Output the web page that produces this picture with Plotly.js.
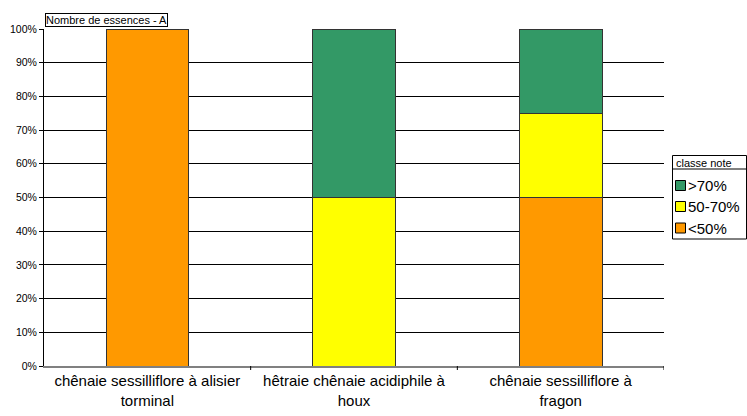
<!DOCTYPE html>
<html>
<head>
<meta charset="utf-8">
<script src="https://cdn.plot.ly/plotly-3.0.1.min.js"></script>
<style>
  html, body { margin: 0; padding: 0; background: #fff; }
  #chart { width: 747px; height: 416px; }
</style>
</head>
<body>
<div id="chart"></div>
<script>
// Forest types (two-line category labels)
const categories = [
  "chênaie sessilliflore à alisier<br>torminal",
  "hêtraie chênaie acidiphile à<br>houx",
  "chênaie sessilliflore à<br>fragon"
];

// Share of species per score class (percent of each column)
const seriesNames = ["<50%", "50-70%", ">70%"];
const lowScore  = [100, 0, 50];
const midScore  = [0, 50, 25];
const highScore = [0, 50, 25];
const seriesValues = [lowScore, midScore, highScore];
const seriesColors = ["#FF9900", "#FFFF00", "#339966"];

const yTickValues = [0, 10, 20, 30, 40, 50, 60, 70, 80, 90, 100];
const yTickLabels = ["0%", "10%", "20%", "30%", "40%", "50%", "60%", "70%", "80%", "90%", "100%"];

const legendTitle = "classe note";
const chartTitle = "Nombre de essences - A";

// Page geometry (pixels)
const W = 747, H = 416;
const M = { l: 44, r: 83, t: 29, b: 50 };
const plotW = W - M.l - M.r, plotH = H - M.t - M.b;
const px = x => (x - M.l) / plotW;        // pixel column -> paper x
const py = y => (H - M.b - y) / plotH;    // pixel row -> paper y

const FONT = "Liberation Sans, Arial, Helvetica, sans-serif";

const traces = seriesNames.map((name, i) => ({
  type: "bar",
  name: name,
  x: [0, 1, 2],
  y: seriesValues[i],
  marker: { color: seriesColors[i], line: { color: "#333333", width: 1 } },
  width: 0.4,
  hoverinfo: "skip",
  showlegend: false
}));

// Legend box drawn as shapes + annotations (items listed top-down: >70%, 50-70%, <50%)
const legendShapes = [
  { type: "rect", xref: "paper", yref: "paper",
    x0: px(672.5), x1: px(746.5), y0: py(239), y1: py(155.5),
    line: { color: "#000000", width: 1 }, fillcolor: "#ffffff", layer: "above" },
  { type: "line", xref: "paper", yref: "paper",
    x0: px(672.5), x1: px(746.5), y0: py(169), y1: py(169),
    line: { color: "#000000", width: 1 }, layer: "above" }
];
const legendAnnotations = [
  { text: legendTitle, xref: "paper", yref: "paper",
    x: px(674), y: py(162.5), xanchor: "left", yanchor: "middle",
    showarrow: false, font: { size: 11, family: FONT, color: "#000000" } }
];
const itemRows = [228, 206.5, 185.5];   // centre rows for <50%, 50-70%, >70%
seriesNames.forEach((name, i) => {
  const cy = itemRows[i];
  legendShapes.push({
    type: "rect", xref: "paper", yref: "paper",
    x0: px(675.5), x1: px(685.5), y0: py(cy + 5), y1: py(cy - 5),
    line: { color: "#000000", width: 1 }, fillcolor: seriesColors[i], layer: "above"
  });
  legendAnnotations.push({
    text: name, xref: "paper", yref: "paper",
    x: px(686), y: py(cy), xanchor: "left", yanchor: "middle",
    showarrow: false, font: { size: 15, family: FONT, color: "#000000" }
  });
});

// Tick marks between categories on the category axis
const catTicks = [0.5, 1.5, 2.5].map(v => ({
  type: "line", xref: "x", yref: "paper",
  x0: v, x1: v, y0: 0, y1: -4 / plotH,
  line: { color: "#000000", width: 1 }
}));

const layout = {
  width: W,
  height: H,
  margin: { l: M.l, r: M.r, t: M.t, b: M.b, pad: 0, autoexpand: false },
  paper_bgcolor: "#ffffff",
  plot_bgcolor: "#ffffff",
  barmode: "stack",
  font: { family: FONT, color: "#000000" },
  showlegend: false,
  xaxis: {
    range: [-0.5, 2.5],
    tickmode: "array",
    tickvals: [0, 1, 2],
    ticktext: categories,
    ticks: "",
    showgrid: false,
    zeroline: false,
    showline: true,
    linecolor: "#808080",
    linewidth: 2,
    tickfont: { size: 15 },
    automargin: false,
    fixedrange: true
  },
  yaxis: {
    range: [0, 100],
    tickmode: "array",
    tickvals: yTickValues,
    ticktext: yTickLabels,
    ticks: "outside",
    ticklen: 4,
    tickcolor: "#000000",
    showgrid: true,
    gridcolor: "#000000",
    gridwidth: 1,
    zeroline: false,
    showline: true,
    linecolor: "#000000",
    linewidth: 1,
    tickfont: { size: 10.5 },
    automargin: false,
    fixedrange: true
  },
  shapes: [...catTicks, ...legendShapes],
  annotations: [
    {
      text: chartTitle,
      xref: "paper", yref: "paper",
      x: px(45), y: py(13), xanchor: "left", yanchor: "top",
      showarrow: false,
      font: { size: 11, family: FONT, color: "#000000" },
      bordercolor: "#000000", borderwidth: 1, borderpad: 0,
      bgcolor: "#ffffff"
    },
    ...legendAnnotations
  ]
};

Plotly.newPlot("chart", traces, layout, { staticPlot: true, displayModeBar: false });
</script>
</body>
</html>
